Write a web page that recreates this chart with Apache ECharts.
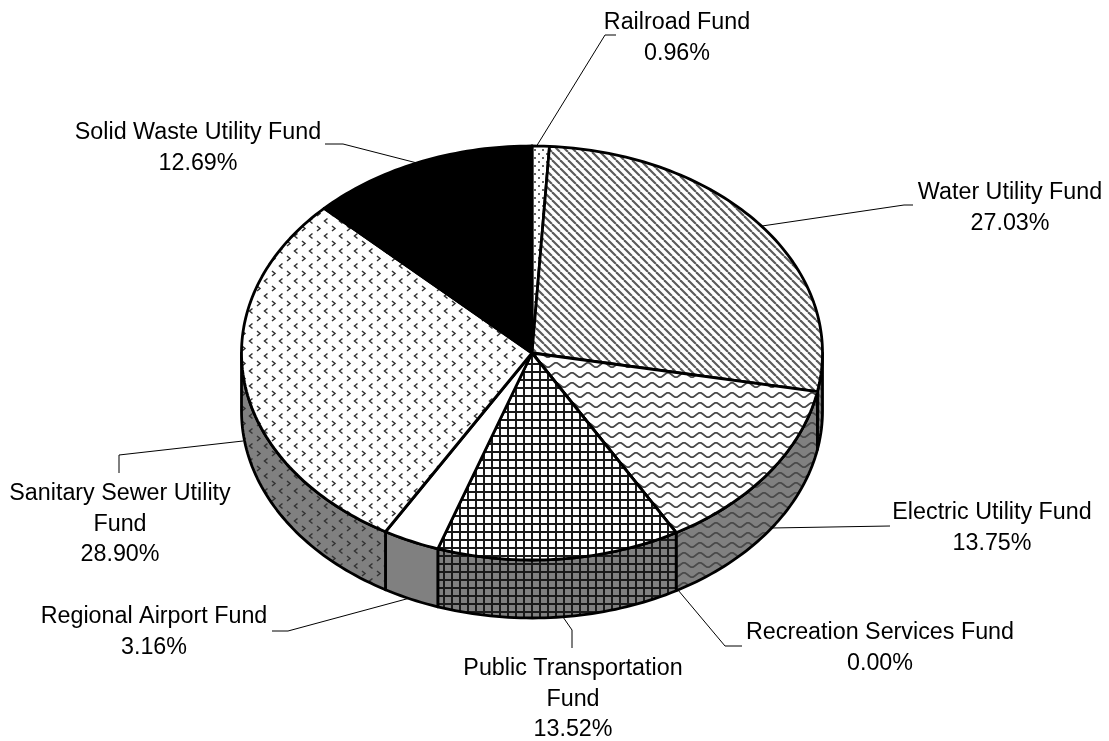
<!DOCTYPE html>
<html>
<head>
<meta charset="UTF-8">
<title>Fund shares</title>
<script src="https://cdn.jsdelivr.net/npm/echarts@6/dist/echarts.min.js"></script>
<style>
  html, body { margin: 0; padding: 0; background: #fff; }
  #main { width: 1109px; height: 741px; }
</style>
</head>
<body>
<div id="main"></div>
<script>
var funds = ['Railroad Fund', 'Water Utility Fund', 'Electric Utility Fund', 'Recreation Services Fund',
  'Public Transportation Fund', 'Regional Airport Fund', 'Sanitary Sewer Utility Fund', 'Solid Waste Utility Fund'];
var shares = [0.96, 27.03, 13.75, 0.00, 13.52, 3.16, 28.90, 12.69];
var labelLines = [['Railroad Fund'], ['Water Utility Fund'], ['Electric Utility Fund'], ['Recreation Services Fund'],
  ['Public Transportation', 'Fund'], ['Regional Airport Fund'], ['Sanitary Sewer Utility', 'Fund'], ['Solid Waste Utility Fund']];

// layout of the labels (centre of first line) and their leader lines
var labelCenters = [[677, 23], [1010, 193], [992, 513], [880, 633], [573, 669], [154, 617], [120, 494], [198, 133]];
var leaders = [
  [[536, 147], [605, 35], [616, 35]],
  [[762, 226], [904, 205], [913, 205]],
  [[771, 528], [890, 526]],
  [[678, 590], [725, 646], [742, 646]],
  [[563, 617], [572, 630], [572, 648]],
  [[410, 598], [288, 631], [272, 631]],
  [[243, 441], [119, 455], [119, 473]],
  [[417, 163], [343, 144], [325, 144]]
];

var RX = 290.5, RY = 207, DEPTH = 58, CX = 532, CY = 353;
var SIDE_GREY = '#808080';
var LINE_HEIGHT = 30.5;

function tile(w, h, bg, draw) {
  var c = document.createElement('canvas');
  c.width = w; c.height = h;
  var g = c.getContext('2d');
  if (bg) { g.fillStyle = bg; g.fillRect(0, 0, w, h); }
  draw(g);
  return { image: c, repeat: 'repeat' };
}
function dots(bg) {
  return tile(8, 8, bg, function (g) {
    g.fillStyle = '#666';
    g.fillRect(2, 1, 2, 2);
    g.fillRect(6, 5, 2, 2);
  });
}
function stripes(bg) {
  return tile(8, 8, bg, function (g) {
    g.strokeStyle = '#5a5a5a';
    g.lineWidth = 2.1;
    for (var i = -8; i <= 8; i += 8) {
      g.beginPath(); g.moveTo(i, 0); g.lineTo(i + 8, 8); g.stroke();
    }
  });
}
function waves(bg) {
  return tile(16, 10, bg, function (g) {
    g.strokeStyle = '#4a4a4a';
    g.lineWidth = 1.8;
    g.beginPath();
    for (var x = -1; x <= 17; x++) {
      var y = 5 + 2.2 * Math.sin(x / 16 * 2 * Math.PI);
      if (x < 0) g.moveTo(x, y); else g.lineTo(x, y);
    }
    g.stroke();
  });
}
function grid(bg) {
  return tile(8, 8, bg, function (g) {
    g.fillStyle = '#1a1a1a';
    g.fillRect(3, 0, 2, 8);
    g.fillRect(0, 3, 8, 2);
  });
}
function chevrons(bg) {
  return tile(15, 15, bg, function (g) {
    g.strokeStyle = '#333';
    g.lineWidth = 1.5;
    function mark(x, y, dir) {
      g.beginPath(); g.moveTo(x - dir * 1.5, y - 2.5); g.lineTo(x + dir * 1.5, y); g.lineTo(x - dir * 1.5, y + 2.5); g.stroke();
    }
    mark(3.5, 3.5, 1);
    mark(11, 11, -1);
  });
}
var topFills = [dots('#fff'), stripes('#fff'), waves('#fff'), '#fff', grid('#fff'), '#fff', chevrons('#fff'), '#000'];
var sideFills = [dots(SIDE_GREY), stripes(SIDE_GREY), waves(SIDE_GREY), SIDE_GREY, grid(SIDE_GREY), SIDE_GREY, chevrons(SIDE_GREY), '#000'];

var slices = [];
var running = 0;
shares.forEach(function (v, i) {
  slices.push([1, running, running + v, i]);
  running += v;
});
var total = running;

function rimPoints(api, from, to, drop) {
  var pts = [];
  var n = Math.max(2, Math.ceil((to - from) * 3));
  for (var k = 0; k <= n; k++) {
    var p = api.coord([1, from + (to - from) * k / n]);
    pts.push([p[0], CY + (p[1] - CY) * RY / RX + drop]);
  }
  return pts;
}

// slices are drawn flattened: polar gives the circle, y is squashed to the ellipse
function renderSlice(params, api) {
  var from = api.value(1), to = api.value(2), i = api.value(3);
  var children = [];
  var frontFrom = Math.max(from, total / 4), frontTo = Math.min(to, total * 3 / 4);
  if (frontTo > frontFrom) {
    var upper = rimPoints(api, frontFrom, frontTo, 0);
    var lower = rimPoints(api, frontFrom, frontTo, DEPTH).reverse();
    children.push({
      type: 'polygon',
      shape: { points: upper.concat(lower) },
      style: { fill: sideFills[i], stroke: '#000', lineWidth: 2.8, lineJoin: 'round' }
    });
  }
  var rim = rimPoints(api, from, to, 0);
  children.push({
    type: 'polygon',
    z2: 5,
    shape: { points: [[CX, CY]].concat(rim) },
    style: { fill: topFills[i], stroke: '#000', lineWidth: 2.8, lineJoin: 'round' }
  });
  return { type: 'group', children: children };
}

function renderLabels(params, api) {
  var i = api.value(0);
  var c = labelCenters[i];
  var lines = labelLines[i].concat([shares[i].toFixed(2) + '%']);
  return {
    type: 'group',
    children: [{
      type: 'polyline',
      shape: { points: leaders[i] },
      style: { fill: null, stroke: '#000', lineWidth: 1 }
    }, {
      type: 'text',
      style: {
        x: c[0], y: c[1] - LINE_HEIGHT / 2, text: lines.join('\n'),
        fill: '#000', align: 'center', verticalAlign: 'top', lineHeight: LINE_HEIGHT,
        font: '23.3px "Liberation Sans", Arial, sans-serif'
      }
    }]
  };
}

var myChart = echarts.init(document.getElementById('main'), null, { renderer: 'canvas' });
myChart.setOption({
  animation: false,
  backgroundColor: '#fff',
  polar: { center: [CX, CY], radius: RX },
  angleAxis: { type: 'value', min: 0, max: total, startAngle: 90, show: false },
  radiusAxis: { type: 'value', min: 0, max: 1, show: false },
  series: [{
    type: 'custom',
    name: 'leaders',
    coordinateSystem: 'none',
    silent: true,
    z: 1,
    data: funds.map(function (f, i) { return [i]; }),
    renderItem: renderLabels
  }, {
    type: 'custom',
    name: 'shares',
    coordinateSystem: 'polar',
    silent: true,
    z: 2,
    encode: { radius: 0, angle: 1 },
    data: slices,
    renderItem: renderSlice
  }]
});
</script>
</body>
</html>
